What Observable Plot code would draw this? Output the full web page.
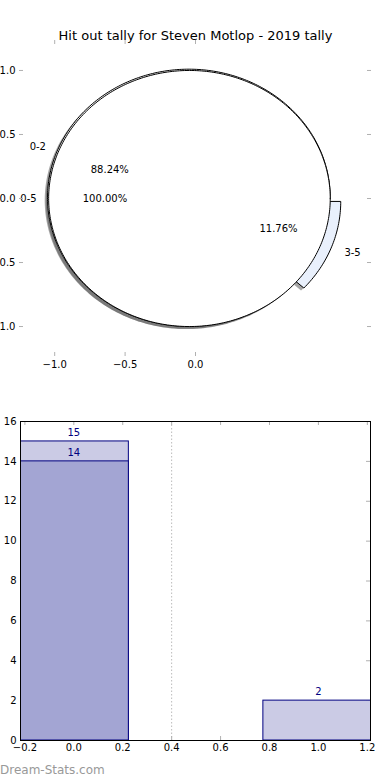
<!DOCTYPE html>
<html><head><meta charset="utf-8">
<script src="https://cdn.jsdelivr.net/npm/d3@7"></script>
<script src="https://cdn.jsdelivr.net/npm/@observablehq/plot@0.6"></script>
<style>
body{margin:0;background:#fff;}
#wrap{position:relative;width:390px;height:780px;font-family:"DejaVu Sans",sans-serif;overflow:hidden;}
#top,#bottom{display:block;line-height:0;}
#wm{position:absolute;left:0;top:762px;font-size:12px;color:#999;line-height:16px;}
</style></head><body>
<div id="wrap"><div id="top"></div><div id="bottom"></div><div id="wm">Dream-Stats.com</div></div>
<script>
// ---- data ----
const title = "Hit out tally for Steven Motlop - 2019 tally";
const outerLabels = ["0-5"];
const outerValues = [17];
const innerLabels = ["0-2", "3-5"];
const innerValues = [15, 2];
const innerExplode = [0, 0.08];
const innerColors = ["#ffffff", "#e9f0fc"];
const pieXTicks = [-1.0, -0.5, 0.0];
const pieYTicks = [-1.0, -0.5, 0.0, 0.5, 1.0];

const barX = [0, 1];
const barTotals = [15, 2];
const barSubsetX = [0];
const barSubset = [14];
const barXTicks = [-0.2, 0.0, 0.2, 0.4, 0.6, 0.8, 1.0, 1.2];
const barYTicks = [0, 2, 4, 6, 8, 10, 12, 14, 16];
const refLineX = [0.4];

// ---- pie geometry ----
const outerCenter = [-0.043, 0], outerR = 1.0;
const innerCenter = [-0.047, 0.006], innerR = 1.004;
const shadowOff = [-0.02, -0.02];

function wedge(id, cx, cy, r, a0, a1, full) {
  const n = Math.max(4, Math.ceil(Math.abs(a1 - a0)));
  const pts = [];
  if (!full) pts.push({id, x: cx, y: cy});
  for (let i = 0; i <= n; i++) {
    const a = (a0 + (a1 - a0) * i / n) * Math.PI / 180;
    pts.push({id, x: cx + r * Math.cos(a), y: cy + r * Math.sin(a)});
  }
  if (!full) pts.push({id, x: cx, y: cy});
  return pts;
}

function buildPie(name, labels, values, explode, center, r) {
  const total = d3.sum(values);
  let start = 0;
  const wedges = [], texts = [];
  labels.forEach((lab, i) => {
    const sweep = values[i] / total * 360;
    const a0 = start, a1 = start + sweep;
    const mid = (a0 + a1) / 2 * Math.PI / 180;
    const ex = explode ? explode[i] : 0;
    const cx = center[0] + ex * Math.cos(mid), cy = center[1] + ex * Math.sin(mid);
    const full = sweep >= 359.999;
    wedges.push({id: name + i, i, pts: wedge(name + i, cx, cy, r, a0, a1, full),
                 shadow: wedge(name + i + "s", cx + shadowOff[0], cy + shadowOff[1], r, a0, a1, full)});
    const lx = cx + 1.1 * r * Math.cos(mid), ly = cy + 1.1 * r * Math.sin(mid);
    texts.push({x: lx + (lx > 0 ? 0 : 0.015), y: ly, text: lab, anchor: lx > 0 ? "start" : "end"});
    texts.push({x: cx + 0.6 * r * Math.cos(mid), y: cy + 0.6 * r * Math.sin(mid),
                text: (values[i] / total * 100).toFixed(2) + "%", anchor: "middle"});
    start = a1;
  });
  return {wedges, texts};
}

const inner = buildPie("in", innerLabels, innerValues, innerExplode, innerCenter, innerR);
const outer = buildPie("out", outerLabels, outerValues, null, outerCenter, outerR);
const allTexts = inner.texts.concat(outer.texts);
const shadowPts = inner.wedges.concat(outer.wedges).flatMap(w => w.shadow);

const tickGray = "#b0b0b0";
const fontStyle = {fontFamily: "DejaVu Sans", fontSize: "10px", color: "black", background: "white", overflow: "visible"};

const topW = 390, topH = 400, tML = 19, tMR = 19, tMT = 40, tMB = 44;
const tFW = topW - tML - tMR, tFH = topH - tMT - tMB;

const topPlot = Plot.plot({
  width: topW, height: topH,
  marginLeft: tML, marginRight: tMR, marginTop: tMT, marginBottom: tMB,
  style: fontStyle,
  x: {domain: [-1.25, 1.25], label: null},
  y: {domain: [-1.234, 1.234], label: null},
  marks: [
    // shadows
    Plot.line(shadowPts, {x: "x", y: "y", z: "id", fill: "#4d4d4d", fillOpacity: 0.5, stroke: "none"}),
    // inner pie
    ...inner.wedges.map(w => Plot.line(w.pts, {x: "x", y: "y", fill: innerColors[w.i], stroke: "black", strokeWidth: 1})),
    // outer pie
    ...outer.wedges.map(w => Plot.line(w.pts, {x: "x", y: "y", fill: "white", stroke: "black", strokeWidth: 1})),
    // labels
    ...["start", "middle", "end"].map(a => Plot.text(allTexts.filter(t => t.anchor === a),
      {x: "x", y: "y", text: "text", textAnchor: a, fontSize: 10, fill: "black"})),
    // title
    Plot.text([title], {text: d => d, frameAnchor: "top", dy: -10, fontSize: 13, fill: "black"}),
    // ticks (inward, gray)
    Plot.ruleY(pieYTicks, {y: d => d, stroke: tickGray, insetRight: tFW - 4}),
    Plot.ruleY(pieYTicks, {y: d => d, stroke: tickGray, insetLeft: tFW - 4}),
    Plot.ruleX(pieXTicks, {x: d => d, stroke: tickGray, insetBottom: tFH - 4}),
    Plot.ruleX(pieXTicks, {x: d => d, stroke: tickGray, insetTop: tFH - 4}),
    Plot.axisY({ticks: pieYTicks, tickSize: 0, tickPadding: 4, tickFormat: d3.format(".1f"), label: null}),
    Plot.axisX({ticks: pieXTicks, tickSize: 0, tickPadding: 4, tickFormat: d3.format(".1f"), label: null})
  ]
});
document.getElementById("top").appendChild(topPlot);

// ---- bar chart ----
const lightFill = "#cbcbe5", darkFill = "#a3a5d3", navy = "#000080";
const barW = 0.45;
const lightBars = barX.map((x, i) => ({x, v: barTotals[i]}));
const darkBars = barSubsetX.map((x, i) => ({x, v: barSubset[i]}));
const barLabels = lightBars.concat(darkBars);

const bW = 390, bH = 380, bML = 20, bMR = 20, bMT = 21, bMB = 40;
const bFW = bW - bML - bMR, bFH = bH - bMT - bMB;

const barPlot = Plot.plot({
  width: bW, height: bH,
  marginLeft: bML, marginRight: bMR, marginTop: bMT, marginBottom: bMB,
  style: fontStyle,
  x: {domain: [-0.218, 1.213], label: null},
  y: {domain: [0, 16], label: null},
  marks: [
    Plot.ruleX(refLineX, {x: d => d, stroke: "#bbbbbb", strokeDasharray: "1.5,2", strokeWidth: 1}),
    Plot.ruleY(barYTicks, {y: d => d, stroke: tickGray, insetRight: bFW - 4}),
    Plot.ruleY(barYTicks, {y: d => d, stroke: tickGray, insetLeft: bFW - 4}),
    Plot.ruleX(barXTicks, {x: d => d, stroke: tickGray, insetBottom: bFH - 4}),
    Plot.ruleX(barXTicks, {x: d => d, stroke: tickGray, insetTop: bFH - 4}),
    Plot.rectY(lightBars, {x1: d => d.x - barW / 2, x2: d => d.x + barW / 2, y1: 0, y2: "v", fill: lightFill, stroke: navy, strokeWidth: 1, clip: true}),
    Plot.rectY(darkBars, {x1: d => d.x - barW / 2, x2: d => d.x + barW / 2, y1: 0, y2: "v", fill: darkFill, stroke: navy, strokeWidth: 1, clip: true}),
    Plot.text(barLabels, {x: "x", y: "v", text: d => String(d.v), dy: -8.5, fill: navy, fontSize: 10}),
    Plot.frame({stroke: "black", strokeWidth: 1}),
    Plot.axisY({ticks: barYTicks, tickSize: 0, tickPadding: 4, tickFormat: d3.format("d"), label: null}),
    Plot.axisX({ticks: barXTicks, tickSize: 0, tickPadding: 3, tickFormat: d3.format(".1f"), label: null})
  ]
});
document.getElementById("bottom").appendChild(barPlot);
</script>
</body></html>
